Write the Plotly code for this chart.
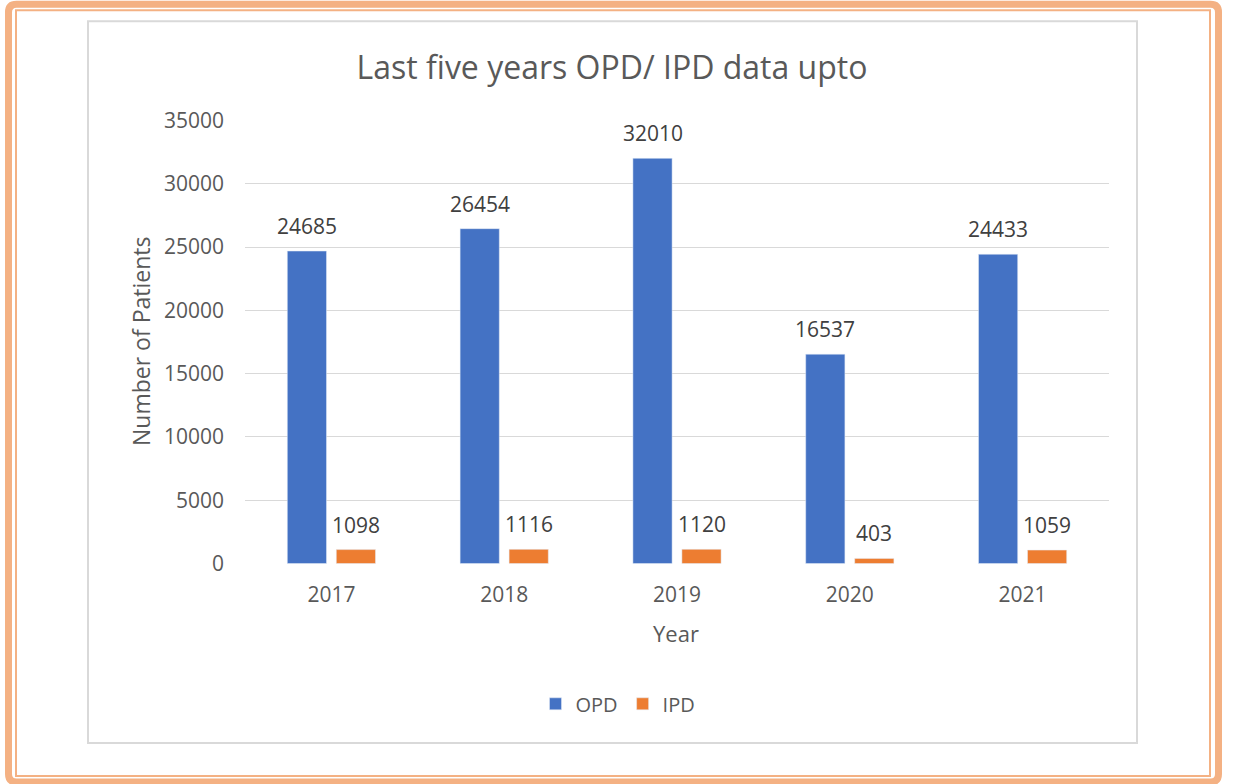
import plotly.graph_objects as go

years = ["2017", "2018", "2019", "2020", "2021"]
opd = [24685, 26454, 32010, 16537, 24433]
ipd = [1098, 1116, 1120, 403, 1059]
title_text = "Last five years OPD/ IPD data upto"
x_title = "Year"
y_title = "Number of Patients"
y_ticks = [0, 5000, 10000, 15000, 20000, 25000, 30000, 35000]

W, H = 1235, 784
L, R, T, B = 245, 1109, 121, 563
FONT = "Open Sans"
TXT = "#595959"
PAD = 40  # data units of padding so edge gridlines are drawn
UNIT = (B - T) / 35000.0
T2 = T - PAD * UNIT
B2 = B + PAD * UNIT

def px(x):
    return (x - L) / (R - L)

def py(y):
    return (B2 - y) / (B2 - T2)

fig = go.Figure()
fig.add_trace(go.Bar(name="OPD", x=years, y=opd, marker_color="#4472C4"))
fig.add_trace(go.Bar(name="IPD", x=years, y=ipd, marker_color="#ED7D31"))

annotations = []
for i, v in enumerate(opd):
    annotations.append(dict(x=i, y=v, xref="x", yref="y", text=str(v), showarrow=False,
                            xshift=-24.5, yshift=25, yanchor="middle",
                            font=dict(family=FONT, size=21, color="#404040")))
for i, v in enumerate(ipd):
    annotations.append(dict(x=i, y=v, xref="x", yref="y", text=str(v), showarrow=False,
                            xshift=24.5, yshift=25, yanchor="middle",
                            font=dict(family=FONT, size=21, color="#404040")))
annotations.append(dict(x=px(676), y=py(632), xref="paper", yref="paper", text=x_title,
                        showarrow=False, xanchor="center", yanchor="middle",
                        font=dict(family=FONT, size=22, color=TXT)))
annotations.append(dict(x=px(141), y=py(342), xref="paper", yref="paper", text=y_title,
                        showarrow=False, xanchor="center", yanchor="middle", textangle=-90,
                        font=dict(family=FONT, size=23, color=TXT)))

def rounded_rect(x0, y0, x1, y1, r):
    a0, b0, a1, b1 = px(x0), py(y0), px(x1), py(y1)
    rx = r / (R - L)
    ry = r / (B2 - T2)
    return (f"M {a0+rx},{b0} L {a1-rx},{b0} Q {a1},{b0} {a1},{b0-ry} "
            f"L {a1},{b1+ry} Q {a1},{b1} {a1-rx},{b1} L {a0+rx},{b1} "
            f"Q {a0},{b1} {a0},{b1+ry} L {a0},{b0-ry} Q {a0},{b0} {a0+rx},{b0} Z")

shapes = [
    dict(type="path", xref="paper", yref="paper", path=rounded_rect(8.5, 5, 1218.5, 781, 8),
         line=dict(color="#F4B183", width=7), fillcolor="rgba(0,0,0,0)", layer="below"),
    dict(type="rect", xref="paper", yref="paper", x0=px(16), y0=py(11), x1=px(1210), y1=py(775),
         line=dict(color="#F4B183", width=2), fillcolor="rgba(0,0,0,0)", layer="below"),
    dict(type="rect", xref="paper", yref="paper", x0=px(88), y0=py(22), x1=px(1137), y1=py(742),
         line=dict(color="#D9D9D9", width=2), fillcolor="rgba(0,0,0,0)", layer="below"),
]

fig.update_layout(
    width=W, height=H,
    margin=dict(l=L, r=W - R, t=T2, b=H - B2, autoexpand=False),
    paper_bgcolor="white", plot_bgcolor="white",
    barmode="group", bargap=0.433, bargroupgap=0.2,
    title=dict(text=title_text, x=612 / W, xanchor="center", y=1 - 68 / H, yanchor="middle",
               yref="container", xref="container",
               font=dict(family=FONT, size=32, color=TXT)),
    xaxis=dict(type="category", range=[-0.5, len(years) - 0.5], showgrid=False, showline=False,
               zeroline=False, ticks="", ticklabelstandoff=16,
               tickfont=dict(family=FONT, size=21, color=TXT)),
    yaxis=dict(range=[-PAD, 35000 + PAD], tickvals=y_ticks, ticktext=[str(t) for t in y_ticks],
               showgrid=True, gridcolor="#D9D9D9", gridwidth=1.3, zeroline=False, showline=False,
               ticks="", ticklabelstandoff=20,
               tickfont=dict(family=FONT, size=21, color=TXT)),
    showlegend=True,
    legend=dict(orientation="h", x=px(618), xanchor="center", y=py(703), yanchor="middle",
                font=dict(family=FONT, size=20, color=TXT), itemwidth=30, traceorder="normal"),
    annotations=annotations,
    shapes=shapes,
)

fig.write_html("out.html", config={"displayModeBar": False},
               post_script="document.body.style.margin='0';document.body.style.overflow='hidden';")
